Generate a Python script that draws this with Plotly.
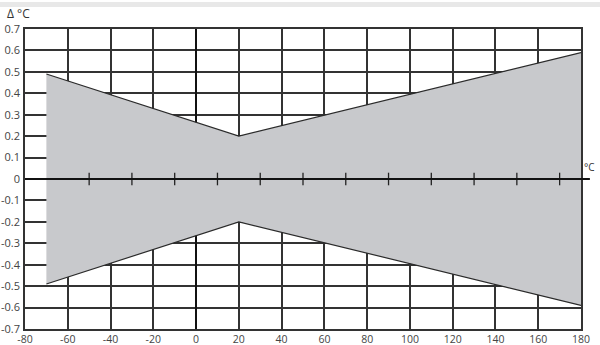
import plotly.graph_objects as go

# Data
band_x = [-70, 20, 180]
band_upper = [0.49, 0.2, 0.59]
band_lower = [-0.49, -0.2, -0.59]

x_ticks = [-80, -60, -40, -20, 0, 20, 40, 60, 80, 100, 120, 140, 160, 180]
x_tick_text = ["-80", "-60", "-40", "-20", "0", "20", "40", "60", "80", "100", "120", "140", "160", "180"]
y_ticks = [0.7, 0.6, 0.5, 0.4, 0.3, 0.2, 0.1, 0, -0.1, -0.2, -0.3, -0.4, -0.5, -0.6, -0.7]
y_tick_text = ["0.7", "0.6", "0.5", "0.4", "0.3", "0.2", "0.1", "0", "-0.1", "-0.2", "-0.3", "-0.4", "-0.5", "-0.6", "-0.7"]
minor_ticks = [-50, -30, -10, 10, 30, 50, 70, 90, 110, 130, 150, 170]

fig = go.Figure()

poly_x = band_x + band_x[::-1]
poly_y = band_upper + band_lower[::-1]
fig.add_trace(go.Scatter(x=poly_x, y=poly_y, fill="toself", fillcolor="#c8c9cc",
                         line=dict(width=0), mode="lines", hoverinfo="skip", showlegend=False))
fig.add_trace(go.Scatter(x=band_x, y=band_upper, mode="lines",
                         line=dict(color="#2a2a2a", width=1.2), showlegend=False))
fig.add_trace(go.Scatter(x=band_x, y=band_lower, mode="lines",
                         line=dict(color="#2a2a2a", width=1.2), showlegend=False))
fig.add_trace(go.Scatter(x=minor_ticks, y=[0] * len(minor_ticks), mode="markers",
                         marker=dict(symbol="line-ns", size=9, line=dict(color="#222", width=1.3)),
                         showlegend=False, cliponaxis=False))

grid_col = "#333333"
fig.update_xaxes(range=[-80, 180], tickvals=x_ticks, ticktext=x_tick_text,
                 showgrid=True, gridcolor=grid_col, gridwidth=1.5,
                 zeroline=True, zerolinecolor="#111", zerolinewidth=2.2,
                 showline=True, linecolor=grid_col, linewidth=1.5, mirror=True,
                 ticks="", automargin=False,
                 tickfont=dict(family="Open Sans", size=10.5, color="#444"))
fig.update_yaxes(range=[-0.7, 0.7], tickvals=y_ticks, ticktext=y_tick_text,
                 showgrid=True, gridcolor=grid_col, gridwidth=1.5,
                 zeroline=False,
                 showline=True, linecolor=grid_col, linewidth=1.5, mirror=True,
                 ticks="", ticklabelstandoff=1, automargin=False,
                 tickfont=dict(family="Open Sans", size=11, color="#444"))

# zero line extending past the right border
fig.add_shape(type="line", xref="paper", yref="y", x0=0, x1=1.016, y0=0, y1=0,
              line=dict(color="#111", width=2.2), layer="above")
# top grey strip
fig.add_shape(type="rect", xref="paper", yref="paper", x0=-0.05, x1=1.04,
              y0=1.073, y1=1.09, fillcolor="#e8e8e8", line=dict(width=0))

fig.add_annotation(text="Δ °C", xref="paper", yref="paper", x=-0.035, y=1.02,
                   xanchor="left", yanchor="bottom", showarrow=False, borderpad=0,
                   font=dict(family="Open Sans", size=12, color="#333"))
fig.add_annotation(text="°C", xref="paper", yref="y", x=1.002, y=0.015,
                   xanchor="left", yanchor="bottom", showarrow=False,
                   font=dict(family="Open Sans", size=10, color="#333"))

fig.update_layout(width=600, height=345, margin=dict(l=25, r=19, t=29, b=16),
                  paper_bgcolor="white", plot_bgcolor="white")

fig.write_html("out.html", config={"displayModeBar": False},
               post_script="document.body.style.margin='0';document.body.style.overflow='hidden';")
